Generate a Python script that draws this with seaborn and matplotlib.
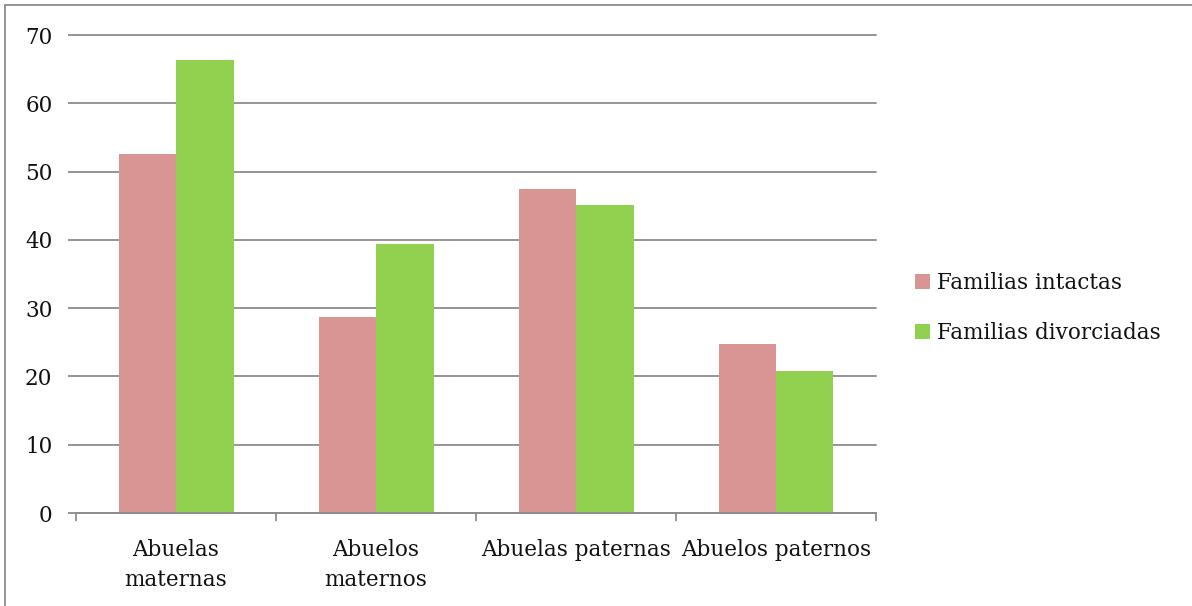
import pandas as pd
import matplotlib
matplotlib.use('Agg')
import matplotlib.pyplot as plt
import seaborn as sns

categorias = ['Abuelas\nmaternas', 'Abuelos\nmaternos', 'Abuelas paternas', 'Abuelos paternos']
intactas = [52.6, 28.7, 47.4, 24.7]
divorciadas = [66.3, 39.4, 45.1, 20.8]
series = ['Familias intactas', 'Familias divorciadas']
colores = ['#D99594', '#92D050']

df = pd.DataFrame({
    'grupo': categorias * 2,
    'valor': intactas + divorciadas,
    'serie': [series[0]] * 4 + [series[1]] * 4,
})

sns.set_style('white')
plt.rcParams['font.family'] = ['DejaVu Serif']
plt.rcParams['text.color'] = '#111111'

fig = plt.figure(figsize=(11.92, 6.06), dpi=100)
ax = fig.add_axes([76/1192, 1 - 513/606, 800/1192, 478/606])

sns.barplot(data=df, x='grupo', y='valor', hue='serie', palette=colores,
            width=0.575, saturation=1, linewidth=0, ax=ax, legend=True)

ax.set_ylim(0, 70)
ax.set_xlim(-0.5, 3.5)
ax.set_yticks(range(0, 71, 10))
ax.set_xticks([-0.5, 0.5, 1.5, 2.5, 3.5], minor=True)
ax.set_axisbelow(True)
ax.yaxis.grid(True, color='#8c8c8c', linewidth=1.3)
for gl in ax.get_ygridlines():
    gl.set_clip_on(False)
ax.set_xlabel('')
ax.set_ylabel('')

for s in ['left', 'right', 'top']:
    ax.spines[s].set_visible(False)
ax.spines['bottom'].set_color('#8c8c8c')
ax.spines['bottom'].set_linewidth(1.3)

ax.tick_params(axis='y', which='major', length=6, width=1.3, color='#8c8c8c',
               pad=11, labelsize=15.5, labelcolor='#111111', left=True)
ax.tick_params(axis='x', which='major', length=0, pad=19, labelsize=15.5,
               labelcolor='#111111')
ax.tick_params(axis='x', which='minor', length=6, width=1.3, color='#8c8c8c',
               bottom=True, direction='out')
for lbl in ax.get_xticklabels():
    lbl.set_linespacing(1.45)

handles, labels = ax.get_legend_handles_labels()
ax.get_legend().remove()
fig.legend(handles, labels, loc='center left', bbox_to_anchor=(915/1192, 0.491),
           frameon=False, fontsize=15.5, handlelength=0.7, handleheight=0.7,
           handletextpad=0.3, labelspacing=1.3, borderpad=0, borderaxespad=0)

# marco del grafico
fig.add_artist(plt.Line2D([5/1192, 5/1192], [0, 1 - 5/606], transform=fig.transFigure,
                          color='#8c8c8c', linewidth=1.3))
fig.add_artist(plt.Line2D([5/1192, 1], [1 - 5/606, 1 - 5/606], transform=fig.transFigure,
                          color='#8c8c8c', linewidth=1.3))

fig.savefig('out.png', dpi=100)
